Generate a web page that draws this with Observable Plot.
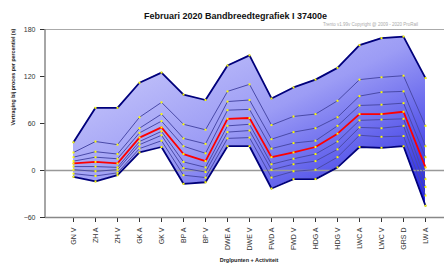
<!DOCTYPE html>
<html><head><meta charset="utf-8">
<script src="https://cdn.jsdelivr.net/npm/d3@7"></script>
<script src="https://cdn.jsdelivr.net/npm/@observablehq/plot@0.6"></script>
<style>
body{margin:0;background:#fff;font-family:"Liberation Sans",Arial,sans-serif;}
#wrap{width:444px;height:266px;overflow:hidden;position:relative;}
#head{height:25px;position:relative;}
#title{position:absolute;left:0;width:471px;top:11px;text-align:center;font-weight:bold;font-size:9px;color:#111;white-space:nowrap;}
#sub{position:absolute;left:323px;top:22px;font-size:4.5px;color:#aaa;white-space:nowrap;}
svg{display:block;overflow:visible;}
</style></head>
<body>
<div id="wrap">
  <div id="head">
    <div id="title">Februari 2020 Bandbreedtegrafiek I 37400e</div>
    <div id="sub">Trento v1.99v Copyright @ 2009 - 2020 ProRail</div>
  </div>
  <div id="chart"></div>
</div>
<script>
const categories = ["GN V","ZH A","ZH V","GK A","GK V","BP A","BP V","DWE A","DWE V","FWD A","FWD V","HDG A","HDG V","LWC A","LWC V","GRS D","LW A"];
const yTicks = [-60, 0, 60, 120, 180];

const lineMax = [36, 80, 80, 112, 125, 97, 90, 134, 147, 92, 106, 116, 131, 160, 169, 171, 118];
const line2   = [23, 37, 33, 68, 87, 59, 52, 101, 110, 58, 69, 72, 89, 116, 119, 121, 57];
const line3   = [17, 24, 21, 54, 72, 41, 34, 88, 90, 40, 49, 54, 68, 95, 100, 101, 31];
const line4   = [12, 17, 15, 48, 63, 31, 22, 77, 78, 28, 35, 38, 57, 83, 84, 86, 17];
const lineMed = [9, 11, 9, 42, 55, 21, 12, 66, 67, 17, 23, 30, 47, 72, 72, 75, 4];
const line6   = [5, 5, 4, 37, 50, 11, 4, 57, 59, 8, 15, 21, 37, 64, 65, 66, -11];
const line7   = [1, -1, 1, 33, 45, 3, -2, 49, 51, 1, 8, 12, 27, 55, 54, 57, -21];
const line8   = [-4, -7, -3, 28, 38, -6, -9, 41, 42, -9, -1, 1, 17, 45, 43, 44, -32];
const lineMin = [-8, -14, -6, 23, 30, -17, -15, 31, 31, -23, -11, -11, 4, 30, 29, 31, -45];

const seriesList = [
  {name:"max", values:lineMax, stroke:"#00007a", width:1.8},
  {name:"l2", values:line2, stroke:"#4a4aa8", width:1},
  {name:"l3", values:line3, stroke:"#4a4aa8", width:1},
  {name:"l4", values:line4, stroke:"#4a4aa8", width:1},
  {name:"l6", values:line6, stroke:"#4a4aa8", width:1},
  {name:"l7", values:line7, stroke:"#4a4aa8", width:1},
  {name:"l8", values:line8, stroke:"#4a4aa8", width:1},
  {name:"min", values:lineMin, stroke:"#00007a", width:1.8},
  {name:"med", values:lineMed, stroke:"#ff0000", width:1.8}
];

const band = categories.map((c, i) => ({cat:c, lo:lineMin[i], hi:lineMax[i]}));

const lineMarks = [];
const dotRows = [];
for (const s of seriesList) {
  const rows = categories.map((c, i) => ({cat:c, value:s.values[i]}));
  lineMarks.push(Plot.line(rows, {x:"cat", y:"value", stroke:s.stroke, strokeWidth:s.width}));
  dotRows.push(...rows);
}

const chart = Plot.plot({
  width:444, height:241,
  marginTop:4, marginBottom:49, marginLeft:45, marginRight:0,
  style:{fontFamily:"Liberation Sans, Arial, sans-serif", fontSize:"7px", color:"#333", background:"transparent", overflow:"visible"},
  x:{type:"point", domain:categories, range:[57,441], tickRotate:-90, tickSize:5, tickPadding:5, label:null},
  y:{domain:[-60,180], ticks:yTicks, tickSize:5, tickPadding:5, label:null},
  marks:[
    Plot.ruleY([180], {stroke:"#aaa", strokeWidth:1}),
    Plot.areaY(band, {x:"cat", y1:"lo", y2:"hi", fill:"url(#bandGrad)"}),
    Plot.ruleY([0], {stroke:"#999", strokeWidth:1.5}),
    ...lineMarks,
    Plot.dot(dotRows, {x:"cat", y:"value", symbol:"square", r:1.1, fill:"#ffff00", stroke:"none"}),
    Plot.ruleY([-60], {stroke:"#888", strokeWidth:1.5}),
    (index, scales, values, dims) => {
      const l = document.createElementNS("http://www.w3.org/2000/svg","line");
      l.setAttribute("x1", dims.marginLeft); l.setAttribute("x2", dims.marginLeft);
      l.setAttribute("y1", dims.marginTop); l.setAttribute("y2", dims.height - dims.marginBottom);
      l.setAttribute("stroke", "#888"); l.setAttribute("stroke-width", 1.5);
      return l;
    },
    Plot.text(["Vertraging bij proces per percentiel (s)"], {frameAnchor:"left", dx:-32, dy:2, rotate:-90, fontSize:5.3, fontWeight:"bold", fill:"#222"}),
    Plot.text(["Drglpunten + Activiteit"], {frameAnchor:"bottom", dx:4, dy:44, fontSize:5.5, fontWeight:"bold", fill:"#222"})
  ]
});

const grad = d3.select(chart).insert("defs", ":first-child")
  .append("linearGradient").attr("id", "bandGrad")
  .attr("x1", "0").attr("y1", "0").attr("x2", "1").attr("y2", "1");
grad.append("stop").attr("offset", "0").attr("stop-color", "#d4d4fc");
grad.append("stop").attr("offset", "0.5").attr("stop-color", "#9c9cf5");
grad.append("stop").attr("offset", "1").attr("stop-color", "#2020e2");

document.getElementById("chart").appendChild(chart);
</script>
</body></html>
